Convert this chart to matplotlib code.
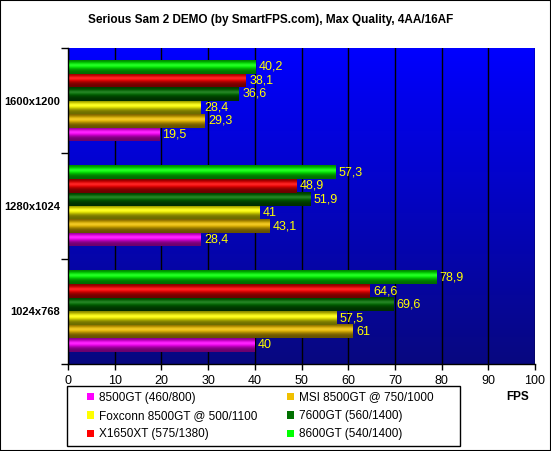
import numpy as np
import matplotlib
matplotlib.use("Agg")
import matplotlib.pyplot as plt
from matplotlib.patches import Rectangle, Patch
from matplotlib.colors import to_rgb

plt.rcParams['font.family'] = ['Liberation Sans', 'DejaVu Sans']

categories = ["1024x768", "1280x1024", "1600x1200"]
series = ["8500GT (460/800)", "MSI 8500GT @ 750/1000", "Foxconn 8500GT @ 500/1100",
          "7600GT (560/1400)", "X1650XT (575/1380)", "8600GT (540/1400)"]
colors = ["#ff00ff", "#f0c000", "#ffff00", "#007000", "#ff0000", "#00ff00"]
values = [
    [40, 28.4, 19.5],
    [61, 43.1, 29.3],
    [57.5, 41, 28.4],
    [69.6, 51.9, 36.6],
    [64.6, 48.9, 38.1],
    [78.9, 57.3, 40.2],
]
xticks = [0, 10, 20, 30, 40, 50, 60, 70, 80, 90, 100]
title = "Serious Sam 2 DEMO (by SmartFPS.com), Max Quality, 4AA/16AF"

W, H = 551, 451
fig = plt.figure(figsize=(W / 100, H / 100), dpi=100)
fig.patch.set_facecolor("white")
ax = fig.add_axes([68 / W, 1 - 364 / H, (535 - 68) / W, (364 - 48) / H])

# blue gradient background
grad = np.linspace(0, 1, 256)[:, None]
top = np.array([0.0, 0.0, 1.0])
bot = np.array([0.03, 0.03, 0.5])
bg = top[None, None, :] * (1 - grad[..., None]) + bot[None, None, :] * grad[..., None]
bg = np.repeat(bg, 2, axis=1)
ax.imshow(bg, extent=(0, 1, 0, 1), transform=ax.transAxes, aspect="auto", zorder=0)

n = len(series)
h = 0.128
y = np.arange(len(categories))

def bar_grad(c, nrows=64):
    t = np.linspace(0, 1, nrows)
    f = 0.42 + 0.58 * np.exp(-((t - 0.38) / 0.28) ** 2)
    hl = 0.15 * np.exp(-((t - 0.36) / 0.12) ** 2)
    base = np.array(to_rgb(c))
    rgb = base[None, :] * f[:, None]
    rgb = rgb * (1 - hl[:, None]) + hl[:, None]
    rgb = np.clip(rgb, 0, 1)
    return np.repeat(rgb[:, None, :], 2, axis=1)

for i, (name, vals, c) in enumerate(zip(series, values, colors)):
    yy = y + (i - (n - 1) / 2) * h
    bars = ax.barh(yy, vals, height=h, color=c, zorder=3, linewidth=0)
    img = bar_grad(c)
    for b, v in zip(bars, vals):
        x0, y0 = b.get_x(), b.get_y()
        ax.imshow(img, extent=(x0, x0 + b.get_width(), y0, y0 + b.get_height()),
                  aspect="auto", zorder=3.5, interpolation="bilinear")
        ax.text(v + 0.7, y0 + b.get_height() / 2, f"{v:g}".replace(".", ","),
                color="#ffff00", fontsize=9, va="center", ha="left", zorder=5)

ax.set_xlim(0, 100)
ax.set_ylim(-0.5, len(categories) - 0.5)
ax.set_xticks(xticks)
ax.set_xticklabels([str(t) for t in xticks], fontsize=9)
ax.xaxis.grid(True, color="black", linewidth=1, zorder=1)
ax.set_axisbelow(True)
ax.set_yticks(y)
ax.set_yticklabels(categories, fontsize=8, fontweight="bold")
ax.tick_params(axis="y", which="major", length=0, pad=5.5)
ax.set_yticks(np.arange(-0.5, len(categories), 1), minor=True)
ax.tick_params(axis="y", which="minor", length=5, width=1, color="black", direction="out")
ax.tick_params(axis="x", length=4, width=1, direction="out", pad=4)
for s in ["top", "right"]:
    ax.spines[s].set_visible(False)
for s in ["left", "bottom"]:
    ax.spines[s].set_color("black")
    ax.spines[s].set_linewidth(1)
    ax.spines[s].set_zorder(6)

fig.text(271 / W, 1 - 20 / H, title, ha="center", va="center", fontsize=8.5, fontweight="bold")
fig.text(518 / W, 1 - 397 / H, "FPS", ha="center", va="center", fontsize=8.5, fontweight="bold")

# legend frame
fig.add_artist(Rectangle((67 / W, 1 - 446 / H), (460 - 67) / W, (446 - 386) / H,
                         transform=fig.transFigure, facecolor="white",
                         edgecolor="black", linewidth=1, zorder=2))

columns = [[0, 2, 4], [1, 3, 5]]
col_x = [87, 287]
for cols, cx in zip(columns, col_x):
    handles = [Patch(facecolor=colors[k], edgecolor="none") for k in cols]
    labels = [series[k] for k in cols]
    leg = fig.legend(handles, labels, ncol=1, loc="center left",
                     bbox_to_anchor=(cx / W, 1 - 416 / H),
                     fontsize=8.5, frameon=False,
                     handlelength=0.6, handleheight=0.6,
                     handletextpad=0.45, borderaxespad=0, labelspacing=0.55,
                     borderpad=0)
    leg.set_zorder(3)

fig.add_artist(Rectangle((0, 0), 1, 1, transform=fig.transFigure, fill=False,
                         edgecolor="black", linewidth=1.5))

fig.savefig("out.png", dpi=100)
